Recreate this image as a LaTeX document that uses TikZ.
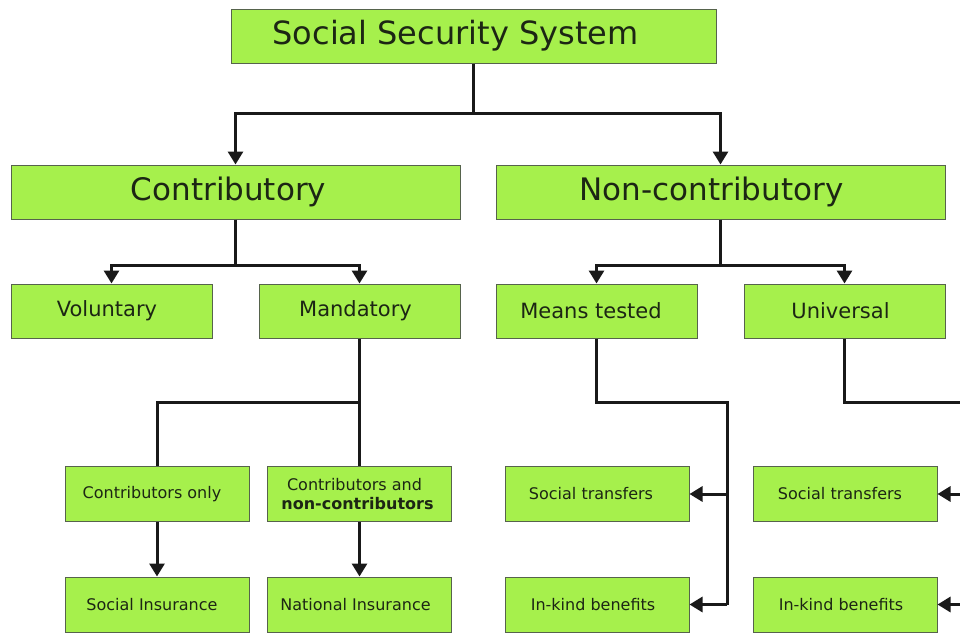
\documentclass[tikz,border=0pt]{standalone}
\usepackage{fontspec}
\setmainfont{DejaVu Sans}
\usetikzlibrary{arrows.meta}
\definecolor{boxfill}{HTML}{A6F04C}
\definecolor{boxline}{HTML}{56634C}
\definecolor{txt}{HTML}{1C2614}
\tikzset{
  box/.style={draw=boxline, line width=1pt, fill=boxfill, text=txt, inner sep=0pt, align=center},
  big/.style={box, minimum width=449pt, minimum height=54pt, font=\fontsize{31}{36}\selectfont},
  mid/.style={box, minimum width=201pt, minimum height=54pt, font=\fontsize{21}{25}\selectfont},
  small/.style={box, minimum width=184pt, minimum height=55pt, font=\fontsize{16}{20}\selectfont},
  conn/.style={line width=3pt, draw=black!90, line join=miter},
  arr/.style={conn, -{Triangle[width=15pt,length=13pt]}}
}
\begin{document}
\begin{tikzpicture}[x=1pt,y=-1pt]
\useasboundingbox (0,0) rectangle (960,632);
% boxes
\node[box, minimum width=485pt, minimum height=54pt, font=\fontsize{32}{38}\selectfont] (top) at (473.5,36) {Social Security System\hspace*{36pt}};
\node[big] (contrib) at (235.5,192) {Contributory\hspace*{14pt}};
\node[big] (noncontrib) at (720.5,192) {Non-contributory\hspace*{18pt}};
\node[mid] (vol) at (111.5,311) {Voluntary\hspace*{9pt}};
\node[mid] (mand) at (359.5,311) {Mandatory\hspace*{8pt}};
\node[mid] (means) at (596.5,311) {Means tested\hspace*{11pt}};
\node[mid] (univ) at (844.5,311) {Universal\hspace*{8pt}};
\node[small] (conly) at (157,494) {Contributors only\hspace*{10pt}};
\node[small] (cnc) at (359.5,494) {Contributors and\hspace*{10pt}\\[-1pt]{\bfseries non-contributors}\hspace*{4pt}};
\node[small] (si) at (157,604.5) {Social Insurance\hspace*{10pt}};
\node[small] (ni) at (359.5,604.5) {National Insurance\hspace*{8pt}};
\node[small] (st1) at (597,494) {Social transfers\hspace*{12pt}};
\node[small] (ik1) at (597,604.5) {In-kind benefits\hspace*{8pt}};
\node[small] (st2) at (845,494) {Social transfers\hspace*{10pt}};
\node[small] (ik2) at (845,604.5) {In-kind benefits\hspace*{8pt}};
% junctions
\coordinate (j1) at (473.5,113);
\coordinate (j2) at (235.5,265);
\coordinate (j3) at (720.5,265);
\coordinate (j4) at (359.5,402);
\coordinate (j5) at (727,402);
\coordinate (j6) at (727,604.5);
\coordinate (e1) at (962,402);
% connectors
\draw[conn] (top.south) -- (j1);
\draw[arr] (j1) -| (contrib.north);
\draw[arr] (j1) -| (noncontrib.north);
\draw[conn] (contrib.south) -- (j2);
\draw[arr] (j2) -| (vol.north);
\draw[arr] (j2) -| (mand.north);
\draw[conn] (noncontrib.south) -- (j3);
\draw[arr] (j3) -| (means.north);
\draw[arr] (j3) -| (univ.north);
\draw[conn] (mand.south) -- (j4);
\draw[conn] (j4) -| (conly.north);
\draw[conn] (j4) -- (cnc.north);
\draw[arr] (conly.south) -- (si.north);
\draw[arr] (cnc.south) -- (ni.north);
\draw[conn] (means.south) |- (j5) -- (j6);
\draw[arr] (j5 |- st1.east) -- (st1.east);
\draw[arr] (j6) -- (ik1.east);
\draw[conn] (univ.south) |- (e1);
\draw[arr] (e1 |- st2.east) -- (st2.east);
\draw[arr] (e1 |- ik2.east) -- (ik2.east);
\end{tikzpicture}
\end{document}
